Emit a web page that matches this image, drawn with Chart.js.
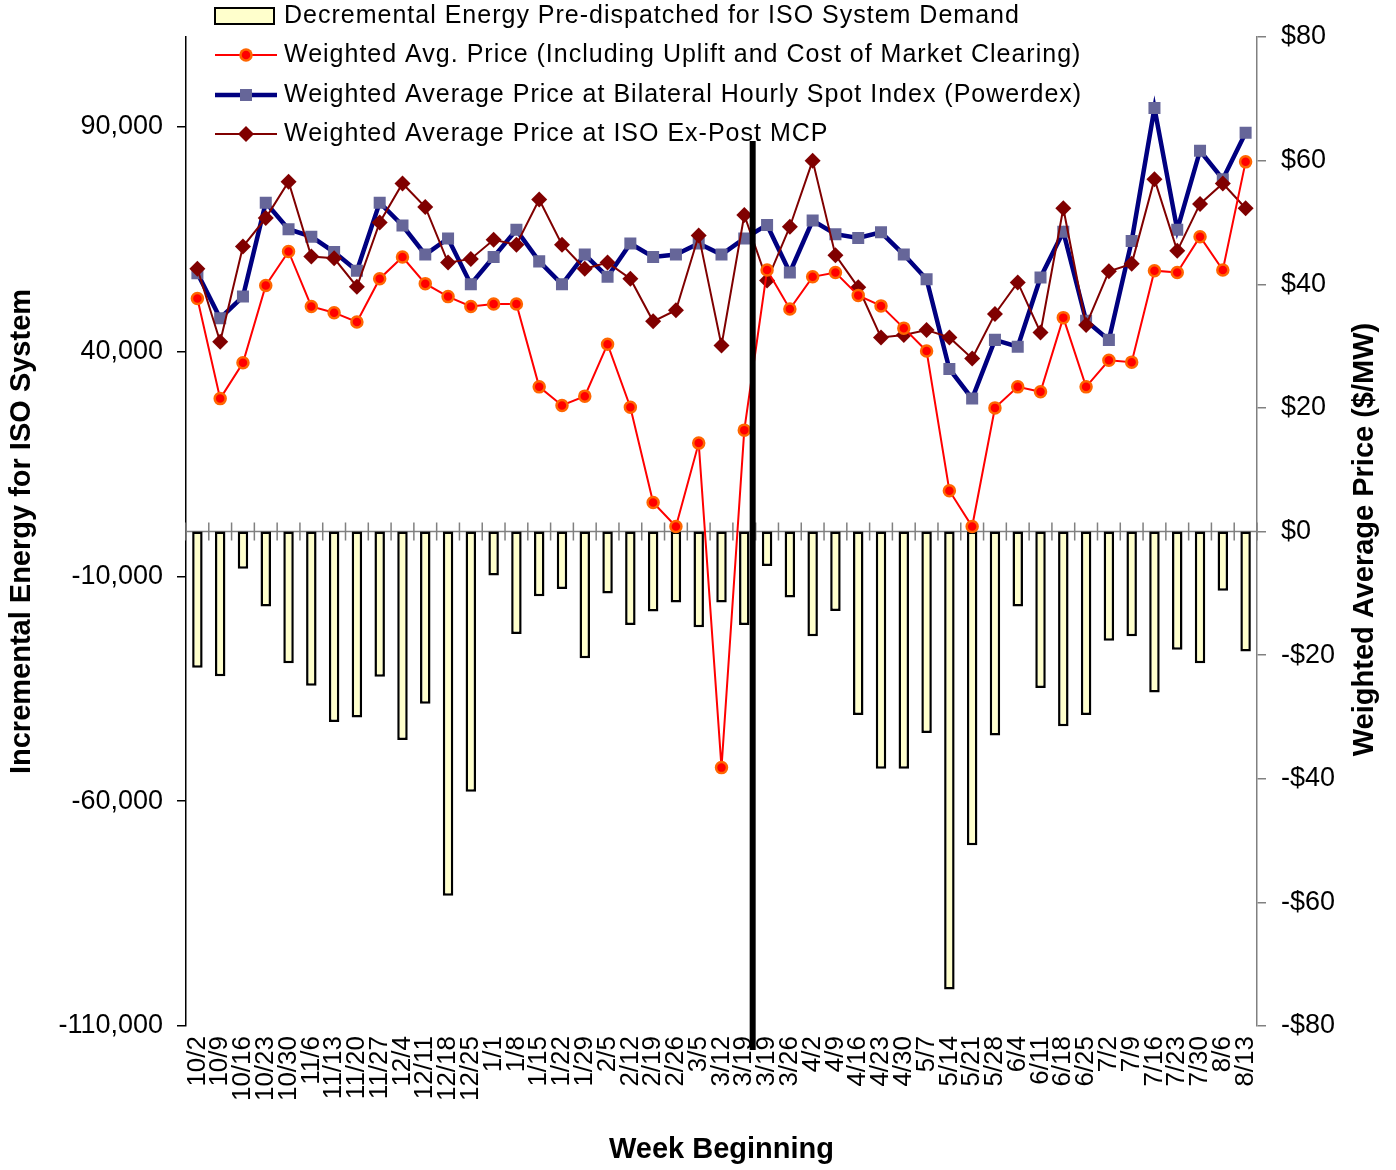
<!DOCTYPE html>
<html>
<head>
<meta charset="utf-8">
<script src="https://cdn.jsdelivr.net/npm/chart.js@4.4.1/dist/chart.umd.min.js"></script>
<style>
  html, body { margin: 0; padding: 0; background: #fff; }
</style>
</head>
<body>
<canvas id="myChart" width="1396" height="1170"></canvas>
<script>
// week beginning labels (3/19 appears twice in the source chart)
const weeks = ['10/2', '10/9', '10/16', '10/23', '10/30', '11/6', '11/13', '11/20', '11/27', '12/4', '12/11', '12/18', '12/25',
  '1/1', '1/8', '1/15', '1/22', '1/29', '2/5', '2/12', '2/19', '2/26', '3/5', '3/12', '3/19',
  '3/19', '3/26', '4/2', '4/9', '4/16', '4/23', '4/30', '5/7', '5/14', '5/21', '5/28',
  '6/4', '6/11', '6/18', '6/25', '7/2', '7/9', '7/16', '7/23', '7/30', '8/6', '8/13'];

// MWh, left axis
const decremental = [-30300, -32200, -8300, -16700, -29300, -34300, -42400, -41400, -32300, -46400, -38300, -81000, -57900,
  -9800, -22800, -14400, -12800, -28200, -13800, -20800, -17800, -15800, -21300, -15800, -20800,
  -7700, -14700, -23300, -17700, -40800, -52800, -52800, -44800, -101900, -69800, -45400,
  -16700, -34800, -43300, -40800, -24300, -23300, -35800, -26300, -29300, -13200, -26700];

// $/MW, right axis
const avgPrice = [37.7, 21.5, 27.3, 39.8, 45.3, 36.4, 35.4, 33.9, 40.9, 44.4, 40.1, 38.0, 36.4,
  36.8, 36.8, 23.4, 20.4, 21.9, 30.3, 20.1, 4.7, 0.8, 14.3, -38.2, 16.4,
  42.3, 36.0, 41.2, 41.9, 38.2, 36.5, 32.9, 29.2, 6.6, 0.8, 20.0,
  23.4, 22.6, 34.6, 23.4, 27.7, 27.4, 42.2, 41.9, 47.7, 42.3, 59.8];

const powerdexPrice = [41.8, 34.5, 38.0, 53.2, 48.9, 47.7, 45.2, 42.2, 53.2, 49.5, 44.8, 47.4, 40.0,
  44.4, 48.8, 43.7, 40.0, 44.8, 41.2, 46.6, 44.4, 44.8, 46.6, 44.8, 47.4,
  49.6, 41.9, 50.3, 48.1, 47.5, 48.4, 44.8, 40.8, 26.3, 21.5, 31.0,
  29.9, 41.1, 48.5, 34.1, 31.0, 47.0, 68.5, 48.8, 61.6, 57.0, 64.5];

const mcpPrice = [42.5, 30.7, 46.1, 50.7, 56.6, 44.5, 44.2, 39.6, 50.0, 56.3, 52.5, 43.5, 44.1,
  47.2, 46.4, 53.7, 46.4, 42.5, 43.5, 40.9, 34.0, 35.8, 47.9, 30.1, 51.2,
  40.6, 49.3, 60.0, 44.7, 39.5, 31.4, 31.8, 32.6, 31.4, 28.0, 35.2,
  40.3, 32.2, 52.3, 33.4, 42.1, 43.3, 57.0, 45.4, 53.0, 56.3, 52.3];

const leftTicks = [-110000, -60000, -10000, 40000, 90000];
const rightTicks = [-80, -60, -40, -20, 0, 20, 40, 60, 80];

const FONT = '"Liberation Sans", Arial, sans-serif';
Chart.defaults.font.family = FONT;
Chart.defaults.color = '#000';

let ctx = document.getElementById('myChart');

function marker(c, style, x, y, r) {
  c.beginPath();
  if (style === 'circle') {
    c.arc(x, y, r, 0, Math.PI * 2);
  } else if (style === 'rect') {
    const s = r * Math.SQRT1_2;
    c.rect(x - s, y - s, 2 * s, 2 * s);
  } else {
    c.moveTo(x, y - r); c.lineTo(x + r, y); c.lineTo(x, y + r); c.lineTo(x - r, y); c.closePath();
  }
  c.fill();
}

// zero line with category ticks, the 3/19 divider, legend and right title
const extras = {
  id: 'extras',
  beforeDatasetsDraw(chart) {
    const c = chart.ctx, x = chart.scales.x, y = chart.scales.y, a = chart.chartArea;
    const y0 = y.getPixelForValue(0);
    const step = x.getPixelForValue(1) - x.getPixelForValue(0);
    c.save();
    c.strokeStyle = '#808080';
    c.lineWidth = 1.5;
    c.beginPath();
    c.moveTo(a.left, y0); c.lineTo(a.right, y0);
    for (let i = 0; i <= weeks.length; i++) {
      const px = x.getPixelForValue(0) - step / 2 + i * step;
      c.moveTo(px, y0 - 9); c.lineTo(px, y0 + 9);
    }
    c.stroke();
    c.restore();
  },
  afterDatasetsDraw(chart) {
    const c = chart.ctx, x = chart.scales.x, a = chart.chartArea;
    const px = (x.getPixelForValue(24) + x.getPixelForValue(25)) / 2 - 3;
    c.save();
    c.strokeStyle = '#000';
    c.lineWidth = 6;
    c.beginPath();
    c.moveTo(px, a.top + 104); c.lineTo(px, a.bottom + 24);
    c.stroke();
    c.restore();
  },
  afterDraw(chart) {
    const c = chart.ctx, a = chart.chartArea;
    const ds = chart.data.datasets;
    const order = [3, 0, 2, 1];
    const rows = [16, 55, 95, 134];
    c.save();
    order.forEach((di, k) => {
      const d = ds[di], yy = rows[k];
      if (d.type === 'bar') {
        c.fillStyle = d.backgroundColor;
        c.fillRect(215, yy - 8, 59, 16);
        c.strokeStyle = '#000';
        c.lineWidth = 2;
        c.strokeRect(215, yy - 8, 59, 16);
      } else {
        c.strokeStyle = d.borderColor;
        c.lineWidth = d.borderWidth;
        c.beginPath(); c.moveTo(215, yy); c.lineTo(277, yy); c.stroke();
        if (d.pointBorderWidth) {
          c.fillStyle = d.pointBorderColor;
          marker(c, d.pointStyle, 246, yy, d.pointRadius + d.pointBorderWidth / 2);
        }
        c.fillStyle = d.pointBackgroundColor;
        marker(c, d.pointStyle, 246, yy, d.pointRadius - (d.pointBorderWidth || 0) / 2);
      }
      c.fillStyle = '#000';
      c.font = '25px ' + FONT;
      c.letterSpacing = '1px';
      c.textAlign = 'left';
      c.textBaseline = 'middle';
      c.fillText(d.label, 284, yy);
    });
    c.letterSpacing = '0px';
    c.translate(a.right + 108, (a.top + a.bottom) / 2 + 8);
    c.rotate(-Math.PI / 2);
    c.font = 'bold 29px ' + FONT;
    c.textAlign = 'center';
    c.textBaseline = 'middle';
    c.fillText('Weighted Average Price ($/MW)', 0, 0);
    c.restore();
  }
};

new Chart(ctx, {
  type: 'bar',
  data: {
    labels: weeks,
    datasets: [
      {
        type: 'line',
        label: 'Weighted Avg. Price (Including Uplift and Cost of Market Clearing)',
        data: avgPrice,
        yAxisID: 'y1',
        borderColor: '#FF0000',
        borderWidth: 2,
        pointStyle: 'circle',
        pointRadius: 5.5,
        pointBackgroundColor: '#FF0000',
        pointBorderColor: '#FF6600',
        pointBorderWidth: 2.5,
        order: 1
      },
      {
        type: 'line',
        label: 'Weighted Average Price at ISO Ex-Post MCP',
        data: mcpPrice,
        yAxisID: 'y1',
        borderColor: '#800000',
        borderWidth: 2,
        pointStyle: 'rectRot',
        pointRadius: 8,
        pointBackgroundColor: '#800000',
        pointBorderColor: '#800000',
        pointBorderWidth: 0,
        order: 2
      },
      {
        type: 'line',
        label: 'Weighted Average Price at Bilateral Hourly Spot Index (Powerdex)',
        data: powerdexPrice,
        yAxisID: 'y1',
        borderColor: '#000080',
        borderWidth: 4.5,
        pointStyle: 'rect',
        pointRadius: 8.5,
        pointBackgroundColor: '#666699',
        pointBorderColor: '#666699',
        pointBorderWidth: 0,
        order: 3
      },
      {
        type: 'bar',
        label: 'Decremental Energy Pre-dispatched for ISO System Demand',
        data: decremental,
        yAxisID: 'y',
        backgroundColor: '#FFFFCC',
        borderColor: '#000000',
        borderWidth: 2.5,
        borderSkipped: false,
        barPercentage: 0.46,
        categoryPercentage: 1,
        order: 4
      }
    ]
  },
  options: {
    responsive: false,
    animation: false,
    layout: { padding: { top: 37, left: 0, right: 0, bottom: 0 } },
    plugins: {
      legend: { display: false },
      tooltip: { enabled: false }
    },
    scales: {
      x: {
        grid: { display: false, drawTicks: false },
        border: { display: false },
        ticks: { autoSkip: false, minRotation: 90, maxRotation: 90, padding: 10, font: { size: 26 }, color: '#000' },
        title: { display: true, text: 'Week Beginning', font: { size: 29, weight: 'bold' }, color: '#000', padding: { top: 0, bottom: 3 } },
        afterFit(s) { s.height = 144; }
      },
      y: {
        position: 'left',
        min: -110000,
        max: 110000,
        afterBuildTicks(s) { s.ticks = leftTicks.map(v => ({ value: v })); },
        ticks: { font: { size: 27 }, padding: 14, color: '#000', callback: v => v.toLocaleString('en-US') },
        grid: { drawOnChartArea: false, tickLength: 9, color: '#000', lineWidth: 1.5 },
        border: { color: '#000', width: 1.5 },
        title: { display: true, text: 'Incremental Energy for ISO System', font: { size: 29, weight: 'bold' }, color: '#000', padding: { top: 5, bottom: 0 } },
        afterFit(s) { s.width = 186; }
      },
      y1: {
        position: 'right',
        min: -80,
        max: 80,
        afterBuildTicks(s) { s.ticks = rightTicks.map(v => ({ value: v })); },
        ticks: { font: { size: 27 }, padding: 15, color: '#000', callback: v => (v < 0 ? '-$' : '$') + Math.abs(v) },
        grid: { drawOnChartArea: false, tickLength: 9, color: '#808080', lineWidth: 1.5 },
        border: { color: '#808080', width: 1.5 },
        afterFit(s) { s.width = 139; }
      }
    }
  },
  plugins: [extras]
});
</script>
</body>
</html>
